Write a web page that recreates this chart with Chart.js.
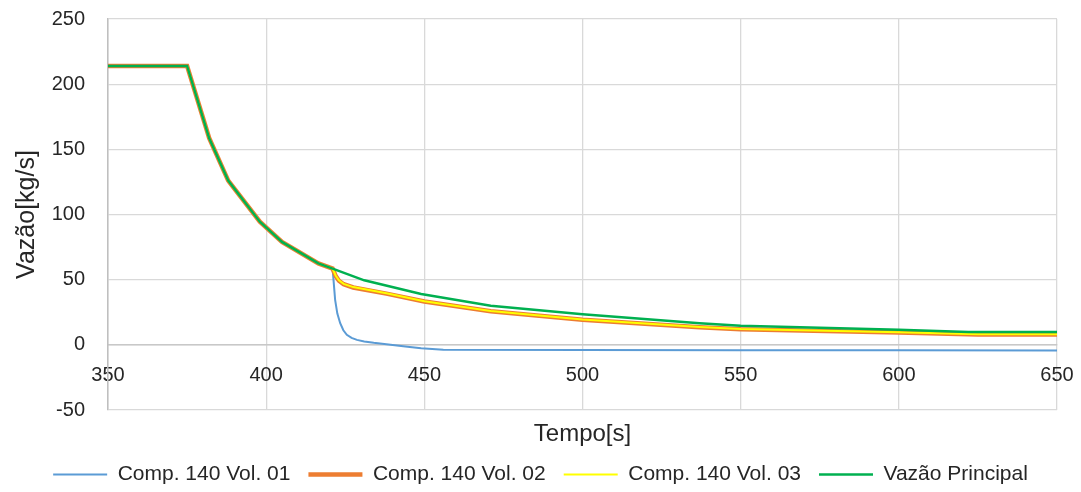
<!DOCTYPE html>
<html>
<head>
<meta charset="utf-8">
<script src="https://cdn.jsdelivr.net/npm/chart.js@4"></script>
<style>
  html, body { margin: 0; padding: 0; background: #fff; }
  #wrap { width: 1081px; height: 492px; }
</style>
</head>
<body>
<div id="wrap"><canvas id="chart"></canvas></div>
<script>
// common part of all four curves (before the split at ~421 s)
const tCommon = [350, 375, 382, 388, 398, 405, 416.5, 421];
const vCommon = [214, 214, 158.5, 126, 94.5, 79, 62.5, 58.5];

const tVol01 = [421.8, 422.5, 423.4, 424.4, 425.5, 427, 428.7, 431, 434, 438, 444, 449, 456, 500, 550, 600, 650];
const vVol01 = [34.5, 24, 16.6, 11.2, 7.7, 5.3, 3.8, 2.6, 1.6, 0.5, -1.2, -2.6, -3.8, -4, -4.1, -4.2, -4.3];

const tVol02 = [422, 423, 424.5, 427.5, 438, 450, 471, 500, 537, 550, 600, 625, 650];
const vVol02 = [52.7, 49.2, 46.5, 44, 39.3, 33.3, 25.8, 19.3, 13.4, 11.9, 9.5, 8, 8];

const tVol03 = [422, 423, 424.5, 427.5, 438, 450, 471, 500, 537, 550, 600, 625, 650];
const vVol03 = [53, 49.5, 46.8, 44.3, 39.5, 33.5, 26, 19.5, 13.6, 12.1, 9.7, 8.2, 8.2];

const tMain = [431, 449, 471, 500, 537, 550, 600, 622, 650];
const vMain = [49.5, 39, 30, 23.5, 16.5, 14.6, 11.5, 9.8, 9.8];

const seriesNames = ['Comp. 140 Vol. 01', 'Comp. 140 Vol. 02', 'Comp. 140 Vol. 03', 'Vazão Principal'];
const xTicks = { min: 350, max: 650, step: 50 };
const yTicks = { min: -50, max: 250, step: 50 };

function toPoints(ts, vs) {
    return ts.map((t, i) => ({ x: t, y: vs[i] }));
}

function withCommon(ts, vs) {
    return toPoints(tCommon.concat(ts), vCommon.concat(vs));
}

Chart.defaults.font.family = "'Liberation Sans', Arial, sans-serif";
Chart.defaults.color = '#262626';

const ctx = document.getElementById('chart').getContext('2d');

new Chart(ctx, {
    type: 'line',
    data: {
        datasets: [
            {
                label: seriesNames[0],
                data: withCommon(tVol01, vVol01),
                borderColor: '#5B9BD5',
                backgroundColor: '#5B9BD5',
                borderWidth: 2,
                order: 4
            },
            {
                label: seriesNames[1],
                data: withCommon(tVol02, vVol02),
                borderColor: '#ED7D31',
                backgroundColor: '#ED7D31',
                borderWidth: 4.5,
                order: 3
            },
            {
                label: seriesNames[2],
                data: withCommon(tVol03, vVol03),
                borderColor: '#FFFF00',
                backgroundColor: '#FFFF00',
                borderWidth: 2,
                order: 2
            },
            {
                label: seriesNames[3],
                data: withCommon(tMain, vMain),
                borderColor: '#00B050',
                backgroundColor: '#00B050',
                borderWidth: 2.5,
                order: 1
            }
        ]
    },
    options: {
        responsive: true,
        maintainAspectRatio: false,
        animation: false,
        elements: {
            point: { radius: 0, hoverRadius: 0 },
            line: { tension: 0, fill: false }
        },
        layout: {
            padding: { left: 0, right: 0, top: 0, bottom: -3 }
        },
        plugins: {
            tooltip: { enabled: false },
            legend: {
                position: 'bottom',
                labels: {
                    usePointStyle: true,
                    pointStyle: 'line',
                    pointStyleWidth: 54,
                    font: { size: 21 },
                    padding: 18,
                    sort: (a, b) => a.datasetIndex - b.datasetIndex
                }
            }
        },
        scales: {
            x: {
                type: 'linear',
                position: { y: 0 },
                min: xTicks.min,
                max: xTicks.max,
                ticks: {
                    stepSize: xTicks.step,
                    font: { size: 20 },
                    padding: 19,
                    maxRotation: 0
                },
                grid: { color: '#d9d9d9', lineWidth: 1.3, drawTicks: false },
                border: { color: '#c8c8c8', width: 1.5 },
                afterFit: (scale) => {
                    scale.paddingLeft = 0;
                    scale.paddingRight = 24;
                }
            },
            x2: {
                type: 'linear',
                position: 'bottom',
                min: xTicks.min,
                max: xTicks.max,
                ticks: { display: false },
                grid: { display: false, drawTicks: false },
                border: { display: false },
                title: {
                    display: true,
                    text: 'Tempo[s]',
                    font: { size: 24, lineHeight: 1 },
                    padding: { top: 12, bottom: 0 }
                }
            },
            y: {
                min: yTicks.min,
                max: yTicks.max,
                ticks: {
                    stepSize: yTicks.step,
                    font: { size: 20 },
                    padding: 23
                },
                grid: { color: '#d9d9d9', lineWidth: 1.3, drawTicks: false },
                border: { color: '#bfbfbf', width: 1.5 },
                title: {
                    display: true,
                    text: 'Vazão[kg/s]',
                    font: { size: 25 },
                    padding: { top: 12, bottom: 0 }
                },
                afterFit: (scale) => {
                    scale.width = 108;
                    scale.paddingTop = 19;
                    scale.paddingBottom = 0;
                }
            }
        }
    }
});
</script>
</body>
</html>
